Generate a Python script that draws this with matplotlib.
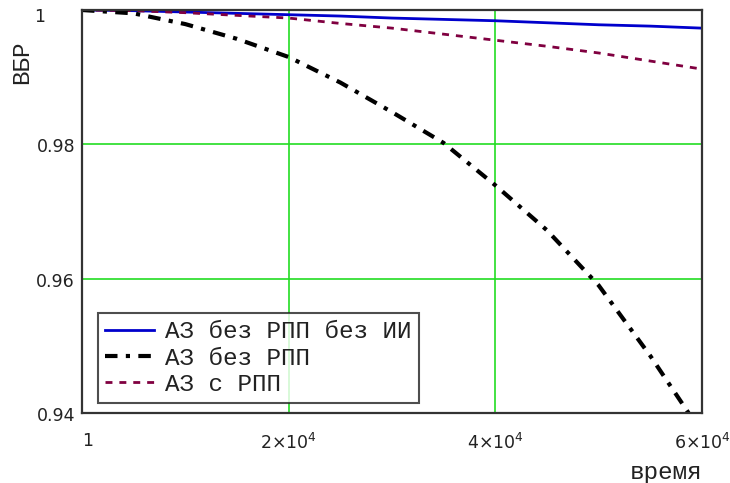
import matplotlib
matplotlib.use("Agg")
import matplotlib.pyplot as plt
from matplotlib.transforms import ScaledTranslation

# ---- data ----
t = [1, 5000, 10000, 15000, 20000, 25000, 30000, 35000, 40000, 45000, 50000, 55000, 60000]
vbr_no_rpp_no_ii = [1.0, 0.9999, 0.9997, 0.9995, 0.9993, 0.9991, 0.9988, 0.9986,
                    0.9984, 0.9981, 0.9978, 0.9976, 0.9973]
t_no_rpp = [1, 5000, 10000, 15000, 20000, 25000, 30000, 35000, 40000, 45000, 50000, 55000, 58700]
vbr_no_rpp = [1.0, 0.9995, 0.9979, 0.9957, 0.9930, 0.9892, 0.9848, 0.9802,
              0.9739, 0.9672, 0.9590, 0.9485, 0.9400]
vbr_with_rpp = [1.0, 0.9999, 0.9996, 0.9992, 0.9988, 0.9980, 0.9973, 0.9964,
                0.9955, 0.9946, 0.9936, 0.9924, 0.9912]

series_labels = ["АЗ без РПП без ИИ", "АЗ без РПП", "АЗ с РПП"]
xticks = [1, 20000, 40000, 60000]
xticklabels = ["1", r"$2{\times}10^{4}$", r"$4{\times}10^{4}$", r"$6{\times}10^{4}$"]
yticks = [0.94, 0.96, 0.98, 1.0]
yticklabels = ["0.94", "0.96", "0.98", "1"]
xlabel = "время"
ylabel = "ВБР"

# ---- figure ----
fig = plt.figure(figsize=(7.30, 4.83), dpi=100)
ax = fig.add_axes([82 / 730, 70 / 483, 620 / 730, 403 / 483])

ax.plot(t, vbr_no_rpp_no_ii, color="#0000cc", lw=2.0, label=series_labels[0], zorder=3)
ax.plot(t_no_rpp, vbr_no_rpp, color="black", lw=3.0, label=series_labels[1], zorder=4,
        dashes=(3, 2, 1, 2), solid_capstyle="butt")
ax.plot(t, vbr_with_rpp, color="#800040", lw=2.0, label=series_labels[2], zorder=3,
        dashes=(2.5, 2.5))

ax.set_xlim(1, 60000)
ax.set_ylim(0.94, 1.0)
ax.set_xticks(xticks)
ax.set_xticklabels(xticklabels)
ax.set_yticks(yticks)
ax.set_yticklabels(yticklabels)
ax.tick_params(length=0, labelsize=12.5, colors="#222222")
ax.tick_params(axis="x", pad=14)
ax.tick_params(axis="y", pad=5)

ax.grid(True, color="#22dd22", lw=1.2)
ax.set_axisbelow(True)
for s in ax.spines.values():
    s.set_color("#333333")
    s.set_linewidth(1.6)
    s.set_zorder(5)

xl = ax.get_xticklabels()
xl[0].set_horizontalalignment("left")
for lab in ax.get_yticklabels():
    lab.set_verticalalignment("center")
    if lab.get_text() == "1":
        lab.set_transform(lab.get_transform() + ScaledTranslation(-0.30, -0.07, fig.dpi_scale_trans))
    else:
        lab.set_transform(lab.get_transform() + ScaledTranslation(0, -0.03, fig.dpi_scale_trans))

mono = "Liberation Mono"
ax.set_ylabel(ylabel, fontfamily=mono, fontsize=17.5, color="#222222")
ax.yaxis.set_label_coords(-0.079, 0.871)
ax.set_xlabel(xlabel, fontfamily=mono, fontsize=17.5, color="#222222")
ax.xaxis.set_label_coords(0.942, -0.118)

leg = ax.legend(loc="upper left", bbox_to_anchor=(0.026, 0.248), borderaxespad=0,
                prop={"family": mono, "size": 17.5}, frameon=True, fancybox=False,
                edgecolor="#222222", handlelength=2.0, handletextpad=0.45,
                labelspacing=0.13, borderpad=0.3)
leg.get_frame().set_linewidth(1.5)
for txt in leg.get_texts():
    txt.set_color("#222222")

fig.savefig("out.png", dpi=100)
